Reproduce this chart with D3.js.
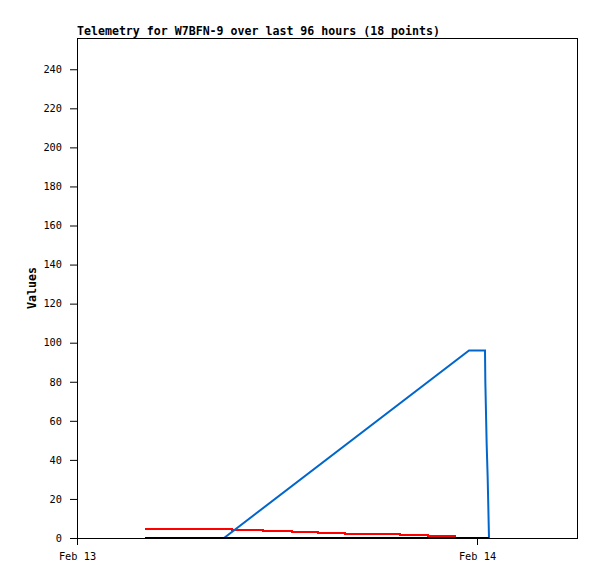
<!DOCTYPE html>
<html>
<head>
<meta charset="utf-8">
<title>Telemetry</title>
<style>
  body { margin: 0; background: #fff; }
  text { font-family: "DejaVu Sans Mono", "Liberation Mono", monospace; }
</style>
</head>
<body>
<main></main>
<script src="https://cdn.jsdelivr.net/npm/d3@7/dist/d3.min.js"></script>
<script>
// hours after Feb 13 00:00 (UTC)
var redTimes   = [4.08, 9.28, 11.18, 12.88, 14.48, 16.08, 17.78, 19.38, 21.04, 22.72];
var redValues  = [4.8, 4.3, 3.8, 3.3, 2.8, 2.3, 1.8, 1.3, 0.9, 0.9];
var blueTimes  = [4.08, 8.82, 23.52, 24.48, 24.50, 24.58, 24.64, 24.72];
var blueValues = [0, 0, 96, 96, 80, 48, 31, 0];
var blackTimes  = [4.08, 24.72];
var blackValues = [0, 0];
var yTicks = [0, 20, 40, 60, 80, 100, 120, 140, 160, 180, 200, 220, 240];
var titleText = "Telemetry for W7BFN-9 over last 96 hours (18 points)";

var width = 597, height = 579;
var margin = {top: 38, right: 20, bottom: 41, left: 77};
var w = width - margin.left - margin.right,
    h = height - margin.top - margin.bottom;

var start = Date.UTC(2024, 1, 13);
function toDate(hr) { return new Date(start + hr * 3600000); }

var svg = d3.select("main").append("svg")
    .attr("width", width).attr("height", height);
var g = svg.append("g")
    .attr("transform", "translate(" + margin.left + "," + margin.top + ")");

var x = d3.scaleUtc()
    .domain([toDate(0), toDate(30)])
    .range([0, w]);
var y = d3.scaleLinear()
    .domain([0, 256])
    .range([h, 0]);

// frame
g.append("rect")
    .attr("x", 0.5).attr("y", 0.5)
    .attr("width", w).attr("height", h)
    .attr("fill", "none").attr("stroke", "#000");

var yAxis = g.append("g")
    .call(d3.axisLeft(y).tickValues(yTicks).tickSize(7).tickPadding(8));
var xAxis = g.append("g")
    .attr("transform", "translate(0," + h + ")")
    .call(d3.axisBottom(x).ticks(d3.utcDay.every(1))
        .tickFormat(d3.utcFormat("%b %d")).tickSize(7).tickPadding(8));
[yAxis, xAxis].forEach(function (a) {
    a.select(".domain").remove();
    a.selectAll("line").attr("stroke", "#000");
    a.selectAll("text").attr("fill", "#000")
        .style("font-size", "10.3px");
});

function pts(ts, vs) {
    return ts.map(function (t, i) { return [toDate(t), vs[i]]; });
}

var stepLine = d3.line()
    .x(function (d) { return x(d[0]); })
    .y(function (d) { return y(d[1]); })
    .curve(d3.curveStepAfter);
var linLine = d3.line()
    .x(function (d) { return x(d[0]); })
    .y(function (d) { return y(d[1]); });

g.append("path")
    .attr("d", stepLine(pts(redTimes, redValues)))
    .attr("fill", "none").attr("stroke", "#ff0000")
    .attr("stroke-width", 2).attr("shape-rendering", "crispEdges");
g.append("path")
    .attr("d", linLine(pts(blueTimes, blueValues)))
    .attr("fill", "none").attr("stroke", "#0066cc")
    .attr("stroke-width", 2);
g.append("path")
    .attr("d", linLine(pts(blackTimes, blackValues)))
    .attr("fill", "none").attr("stroke", "#000")
    .attr("stroke-width", 2).attr("shape-rendering", "crispEdges");

svg.append("text")
    .attr("x", margin.left).attr("y", 35)
    .style("font-size", "11.6px").style("font-weight", "bold")
    .text(titleText);

svg.append("text")
    .attr("transform", "translate(36," + (margin.top + h / 2) + ") rotate(-90)")
    .attr("text-anchor", "middle")
    .style("font-size", "11.6px").style("font-weight", "bold")
    .text("Values");
</script>
</body>
</html>
